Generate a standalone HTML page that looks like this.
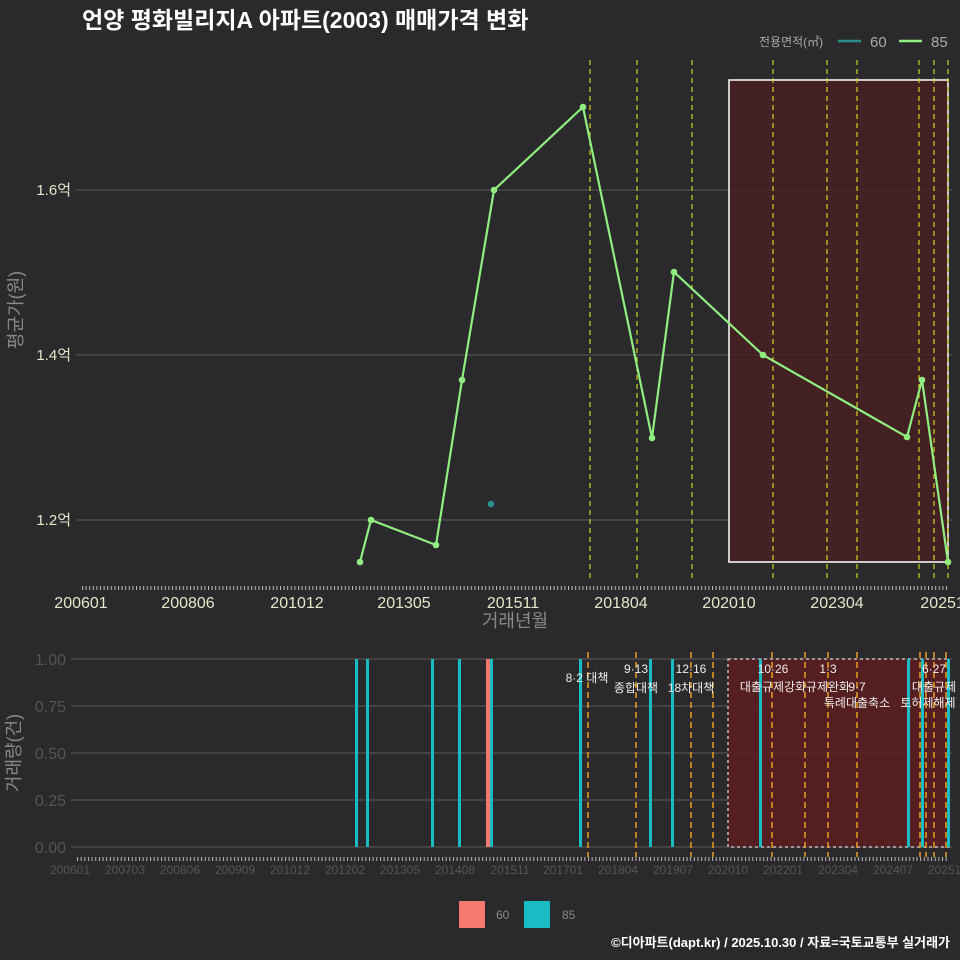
<!DOCTYPE html>
<html><head><meta charset="utf-8"><style>
html,body{margin:0;padding:0;background:#2a2a2c;}
svg{display:block;font-family:"Liberation Sans","Noto Sans CJK KR",sans-serif;}
</style></head><body>
<svg width="960" height="960" viewBox="0 0 960 960" xmlns="http://www.w3.org/2000/svg">
<defs>
<pattern id="tk" x="82" y="0" width="3.6" height="10" patternUnits="userSpaceOnUse"><rect x="0" y="0" width="1" height="10" fill="#bbb"/></pattern>
<pattern id="tk2" x="77" y="0" width="3.65" height="10" patternUnits="userSpaceOnUse"><rect x="0" y="0" width="1" height="10" fill="#bbb"/></pattern>
</defs>
<rect width="960" height="960" fill="#2a2a2c"/>
<text x="82" y="28" font-size="23" font-weight="bold" fill="#fff">언양 평화빌리지A 아파트(2003) 매매가격 변화</text>
<text x="759" y="46" font-size="12" fill="#aaa">전용면적(㎡)</text>
<line x1="838" y1="41" x2="861" y2="41" stroke="#2a8f8a" stroke-width="2.5"/>
<text x="870" y="47" font-size="15" fill="#aaa">60</text>
<line x1="899" y1="41" x2="922" y2="41" stroke="#90ee80" stroke-width="2.5"/>
<text x="931" y="47" font-size="15" fill="#aaa">85</text>
<g stroke="#5a5a5a" stroke-width="1">
<line x1="76" y1="190" x2="952" y2="190"/><line x1="76" y1="355" x2="952" y2="355"/><line x1="76" y1="520" x2="952" y2="520"/>
</g>
<g font-size="15" fill="#e6e6c8" text-anchor="end">
<text x="71" y="195">1.6억</text><text x="71" y="360">1.4억</text><text x="71" y="525">1.2억</text>
</g>
<text transform="translate(22,310) rotate(-90)" font-size="18" fill="#888" text-anchor="middle">평균가(원)</text>
<rect x="729" y="80" width="219" height="482" fill="#4a1f22" fill-opacity="0.8" stroke="#fff" stroke-width="1.5"/>
<g stroke="#d4d21c" stroke-width="1.2" stroke-dasharray="5,4">
<line x1="590" y1="60" x2="590" y2="580"/><line x1="637" y1="60" x2="637" y2="580"/><line x1="692" y1="60" x2="692" y2="580"/>
<line x1="773" y1="60" x2="773" y2="580"/><line x1="827" y1="60" x2="827" y2="580"/><line x1="857" y1="60" x2="857" y2="580"/>
<line x1="919" y1="60" x2="919" y2="580"/><line x1="934" y1="60" x2="934" y2="580"/><line x1="948" y1="60" x2="948" y2="580"/>
</g>
<polyline fill="none" stroke="#90ee80" stroke-width="2.2" points="360,562 371,520 436,545 462,380 494,190 583,107 652,438 674,272 763,355 907,437 922,380 948,562"/>
<g fill="#90ee80">
<circle cx="360" cy="562" r="3.3"/><circle cx="371" cy="520" r="3.3"/><circle cx="436" cy="545" r="3.3"/><circle cx="462" cy="380" r="3.3"/><circle cx="494" cy="190" r="3.3"/><circle cx="583" cy="107" r="3.3"/><circle cx="652" cy="438" r="3.3"/><circle cx="674" cy="272" r="3.3"/><circle cx="763" cy="355" r="3.3"/><circle cx="907" cy="437" r="3.3"/><circle cx="922" cy="380" r="3.3"/><circle cx="948" cy="562" r="3.3"/>
</g>
<circle cx="491" cy="504" r="3.3" fill="#2a8f8a"/>
<rect x="82" y="586" width="866" height="4" fill="url(#tk)"/>
<g font-size="16" fill="#e6e6c8" text-anchor="middle">
<text x="81" y="608">200601</text><text x="188" y="608">200806</text><text x="297" y="608">201012</text><text x="404" y="608">201305</text><text x="513" y="608">201511</text><text x="621" y="608">201804</text><text x="729" y="608">202010</text><text x="837" y="608">202304</text><text x="947" y="608">202510</text>
</g>
<text x="515" y="627" font-size="18" fill="#888" text-anchor="middle">거래년월</text>
<g stroke="#5a5a5a" stroke-width="1">
<line x1="71" y1="659" x2="952" y2="659"/><line x1="71" y1="706" x2="952" y2="706"/><line x1="71" y1="753" x2="952" y2="753"/><line x1="71" y1="800" x2="952" y2="800"/><line x1="71" y1="847" x2="952" y2="847"/>
</g>
<g font-size="16" fill="#555" text-anchor="end">
<text x="66" y="665">1.00</text><text x="66" y="712">0.75</text><text x="66" y="759">0.50</text><text x="66" y="806">0.25</text><text x="66" y="853">0.00</text>
</g>
<text transform="translate(20,753) rotate(-90)" font-size="18" fill="#888" text-anchor="middle">거래량(건)</text>
<rect x="728" y="659" width="221" height="188" fill="#5a1e20" fill-opacity="0.9" stroke="#bbb" stroke-width="1.5" stroke-dasharray="3,3"/>
<g stroke="#e8a020" stroke-width="1.5" stroke-dasharray="6,4">
<line x1="588" y1="652" x2="588" y2="857"/><line x1="636" y1="652" x2="636" y2="857"/><line x1="691" y1="652" x2="691" y2="857"/><line x1="713" y1="652" x2="713" y2="857"/>
<line x1="772" y1="652" x2="772" y2="857"/><line x1="805" y1="652" x2="805" y2="857"/><line x1="828" y1="652" x2="828" y2="857"/><line x1="857" y1="652" x2="857" y2="857"/>
<line x1="920" y1="652" x2="920" y2="857"/><line x1="926" y1="652" x2="926" y2="857"/><line x1="934" y1="652" x2="934" y2="857"/><line x1="946" y1="652" x2="946" y2="857"/>
</g>
<g fill="#18bcc2">
<rect x="355" y="659" width="3" height="188"/><rect x="366" y="659" width="3" height="188"/><rect x="431" y="659" width="3" height="188"/><rect x="458" y="659" width="3" height="188"/><rect x="490" y="659" width="3" height="188"/><rect x="579" y="659" width="3" height="188"/><rect x="649" y="659" width="3" height="188"/><rect x="671" y="659" width="3" height="188"/><rect x="759" y="659" width="3" height="188"/><rect x="907" y="659" width="3" height="188"/><rect x="921" y="659" width="3" height="188"/><rect x="947" y="659" width="3" height="188"/>
</g>
<rect x="486" y="659" width="4" height="188" fill="#f07870"/>
<g font-size="12" fill="#eee" text-anchor="middle">
<text x="587" y="682">8·2 대책</text>
<text x="636" y="673">9·13</text><text x="636" y="692">종합대책</text>
<text x="691" y="673">12·16</text><text x="691" y="692">18차대책</text>
<text x="773" y="673">10·26</text><text x="773" y="691">대출규제강화</text>
<text x="828" y="673">1·3</text><text x="828" y="691">규제완화</text>
<text x="857" y="691">9·7</text><text x="857" y="707">특례대출축소</text>
<text x="934" y="673">6·27</text><text x="934" y="691">대출규제</text><text x="928" y="707">토허제해제</text>
</g>
<rect x="77" y="857" width="871" height="4" fill="url(#tk2)"/>
<g font-size="12" fill="#555" text-anchor="middle">
<text x="70" y="874">200601</text><text x="125" y="874">200703</text><text x="180" y="874">200806</text><text x="235" y="874">200909</text><text x="290" y="874">201012</text><text x="345" y="874">201202</text><text x="400" y="874">201305</text><text x="455" y="874">201408</text><text x="510" y="874">201511</text><text x="563" y="874">201701</text><text x="618" y="874">201804</text><text x="673" y="874">201907</text><text x="728" y="874">202010</text><text x="783" y="874">202201</text><text x="838" y="874">202304</text><text x="893" y="874">202407</text><text x="948" y="874">202510</text>
</g>
<rect x="459" y="901" width="26" height="27" fill="#f47a70"/>
<text x="496" y="919" font-size="12" fill="#888">60</text>
<rect x="524" y="901" width="26" height="27" fill="#18bcc2"/>
<text x="562" y="919" font-size="12" fill="#888">85</text>
<text x="950" y="947" font-size="13" font-weight="bold" fill="#fff" text-anchor="end">©디아파트(dapt.kr) / 2025.10.30 / 자료=국토교통부 실거래가</text>
</svg>
</body></html>
